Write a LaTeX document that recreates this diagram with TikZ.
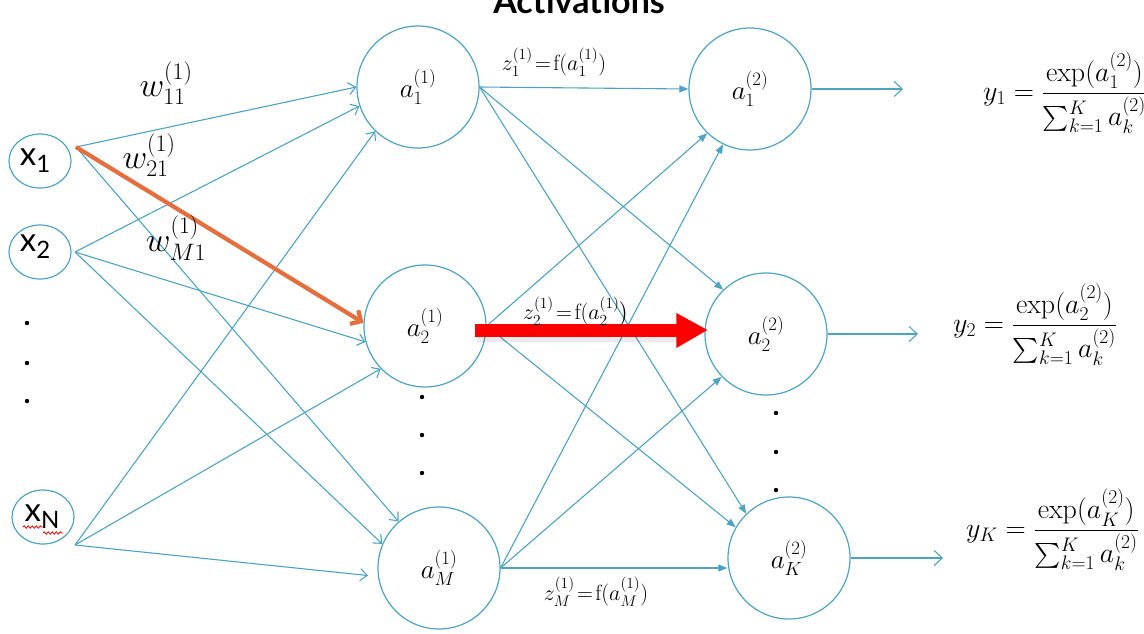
\RequirePackage{fix-cm}
\documentclass[tikz,border=0pt]{standalone}
\usepackage{amsmath}
\usepackage{fontspec}
\setsansfont{Lato}
\usetikzlibrary{arrows.meta,shapes.geometric,calc,decorations.pathmorphing}

\definecolor{netblue}{RGB}{78,163,194}
\definecolor{hlorange}{RGB}{228,110,62}
\definecolor{hlred}{RGB}{252,0,0}

% input symbol with a large lowered subscript
\newcommand{\insym}[1]{x\raisebox{-7pt}{\fontsize{24}{26}\selectfont #1}}

\begin{document}
\begin{tikzpicture}[x=1pt,y=-1pt,
  inputnode/.style={ellipse, draw=netblue, line width=1.2pt, minimum width=62pt,
    minimum height=54pt, inner sep=0pt, font=\sffamily\fontsize{33}{36}\selectfont},
  unitnode/.style={circle, draw=netblue, line width=1.2pt, minimum size=122pt,
    inner sep=0pt, font=\fontsize{27}{30}\selectfont},
  wire/.style={draw=netblue, line width=1.1pt},
  inwire/.style={wire, -{Straight Barb[length=7pt,width=12pt]}},
  midwire/.style={wire, -{Triangle[length=9pt,width=7pt]}},
  outwire/.style={wire, -{Straight Barb[length=8pt,width=15pt]}},
  weightlabel/.style={font=\fontsize{34}{38}\selectfont, inner sep=0pt},
  zlabel/.style={font=\fontsize{22}{26}\selectfont, inner sep=0pt},
  formula/.style={font=\fontsize{28}{32}\selectfont, inner sep=0pt, anchor=west},
  vdot/.style={fill=black}
]
\useasboundingbox (0,0) rectangle (1144,633);
\clip (0,0) rectangle (1144,633);

% heading, cut off by the top edge
\node[font=\sffamily\bfseries\fontsize{34}{40}\selectfont, anchor=base, inner sep=0pt]
  (title) at (579,13) {Activations};

% input layer
\node[inputnode] (x1) at (40,161) {\raisebox{2pt}{\hspace*{-10pt}\insym{1}}};
\node[inputnode] (x2) at (40,252) {\raisebox{18pt}{\hspace*{-10pt}\insym{2}}};
\node[inputnode] (xN) at (43,517) {\raisebox{6pt}{\hspace*{-2pt}\insym{N}}};
\draw[red, line width=0.8pt, decorate, decoration={snake, amplitude=1.2pt, segment length=4pt}]
  ($(xN.center)+(-20,10)$) -- ($(xN.center)+(0,10)$);
\draw[red, line width=0.8pt, decorate, decoration={snake, amplitude=1.2pt, segment length=4pt}]
  ($(xN.center)+(0,16)$) -- ($(xN.center)+(20,16)$);
\foreach \yy in {323,363,401} \fill[vdot] (27,\yy) circle (2.2pt);

% hidden layer
\node[unitnode] (h1) at (418,87) {$a_1^{(1)}$};
\node[unitnode] (h2) at (425,326) {$a_2^{(1)}$};
\node[unitnode] (hM) at (439,568) {$a_M^{(1)}$};
\foreach \yy in {397,435,473} \fill[vdot] (422,\yy) circle (2.2pt);

% output layer
\node[unitnode] (o1) at (750,89) {$a_1^{(2)}$};
\node[unitnode] (o2) at (766,334) {$a_2^{(2)}$};
\node[unitnode] (oK) at (789,558) {$a_K^{(2)}$};
\foreach \yy in {413,452,490} \fill[vdot] (776,\yy) circle (2.2pt);

% fan-out points of the inputs
\coordinate (x1o) at (76,147);
\coordinate (x2o) at (75,252);
\coordinate (xNo) at (75,545);

% input -> hidden
\draw[inwire] (x1o) -- (h1.180);
\draw[inwire] (x2o) -- (h1.198);
\draw[inwire] (xNo) -- (h1.226);
\draw[inwire] (x2o) -- (h2.195);
\draw[inwire] (xNo) -- (h2.224);
\draw[inwire] (x1o) -- (hM.131);
\draw[inwire] (x2o) -- (hM.157);
\draw[inwire, shorten >=10pt] (xNo) -- (hM.188);
\draw[hlorange, line width=4.2pt, -{Straight Barb[length=8pt,width=16pt]}] (x1o) -- (h2.177);

% hidden -> output
\draw[midwire] (h1.east) -- (o1.west);
\draw[midwire] (h1.east) -- (o2.134);
\draw[midwire] (h1.east) -- (oK.134);
\draw[midwire] (h2.east) -- (o1.226);
\draw[midwire] (h2.east) -- (oK.150);
\draw[midwire] (hM.east) -- (o1.244);
\draw[midwire] (hM.east) -- (o2.224);
\draw[midwire] (hM.east) -- (hM.east -| oK.west);

% highlighted z_2 -> a_2 arrow with a soft shadow
\coordinate (rs) at ($(h2.east)+(-12,0)$);
\coordinate (rt) at ($(o2.west)+(3,-4)$);
\fill[black, opacity=0.08] ($(rs)+(2,6)$) rectangle ($(rt)+(-28,12)$);
\fill[gray!60] ($(rs)+(0,1)$) rectangle ($(rt)+(-30,3)$);
\fill[hlred] ($(rs)+(0,-2)$) rectangle ($(rt)+(-30,1)$);
\fill[hlred] ($(rs)+(0,3)$) rectangle ($(rt)+(-30,7)$);
\fill[hlred] ($(rt)+(-31,-17)$) -- (rt) -- ($(rt)+(-31,18)$) -- cycle;

% activation labels
\node[zlabel] (z1) at (554,62) {$z_1^{(1)}\!=\!\mathrm{f}(a_1^{(1)})$};
\node[zlabel] (z2) at (576,312) {$z_2^{(1)}\!=\!\mathrm{f}(a_2^{(1)}\bigr)$};
\node[zlabel] (zM) at (596,592) {$z_M^{(1)}\!=\!\mathrm{f}(a_M^{(1)})$};

% weight labels
\node[weightlabel] (w11) at (166,83) {$w_{11}^{(1)}$};
\node[weightlabel] (w21) at (149,155) {$w_{21}^{(1)}$};
\node[weightlabel] (wM1) at (176,238) {$w_{M1}^{(1)}$};

% softmax outputs
\coordinate (y1e) at (903,89);
\coordinate (y2e) at (918,334);
\coordinate (yKe) at (943,558);
\draw[outwire] (o1.east) -- (y1e);
\draw[outwire] (o2.east) -- (y2e);
\draw[outwire] (oK.east) -- (yKe);

\node[formula] (y1) at (983,93)
  {$y_1 = \dfrac{\exp(a_1^{(2)})}{\sum_{k=1}^{K} a_k^{(2)}}$};
\node[formula] (y2) at (953,325)
  {$y_2 = \dfrac{\exp(a_2^{(2)})}{\sum_{k=1}^{K} a_k^{(2)}}$};
\node[formula] (yK) at (966,530)
  {$y_K = \dfrac{\exp(a_K^{(2)})}{\sum_{k=1}^{K} a_k^{(2)}}$};
\end{tikzpicture}
\end{document}
